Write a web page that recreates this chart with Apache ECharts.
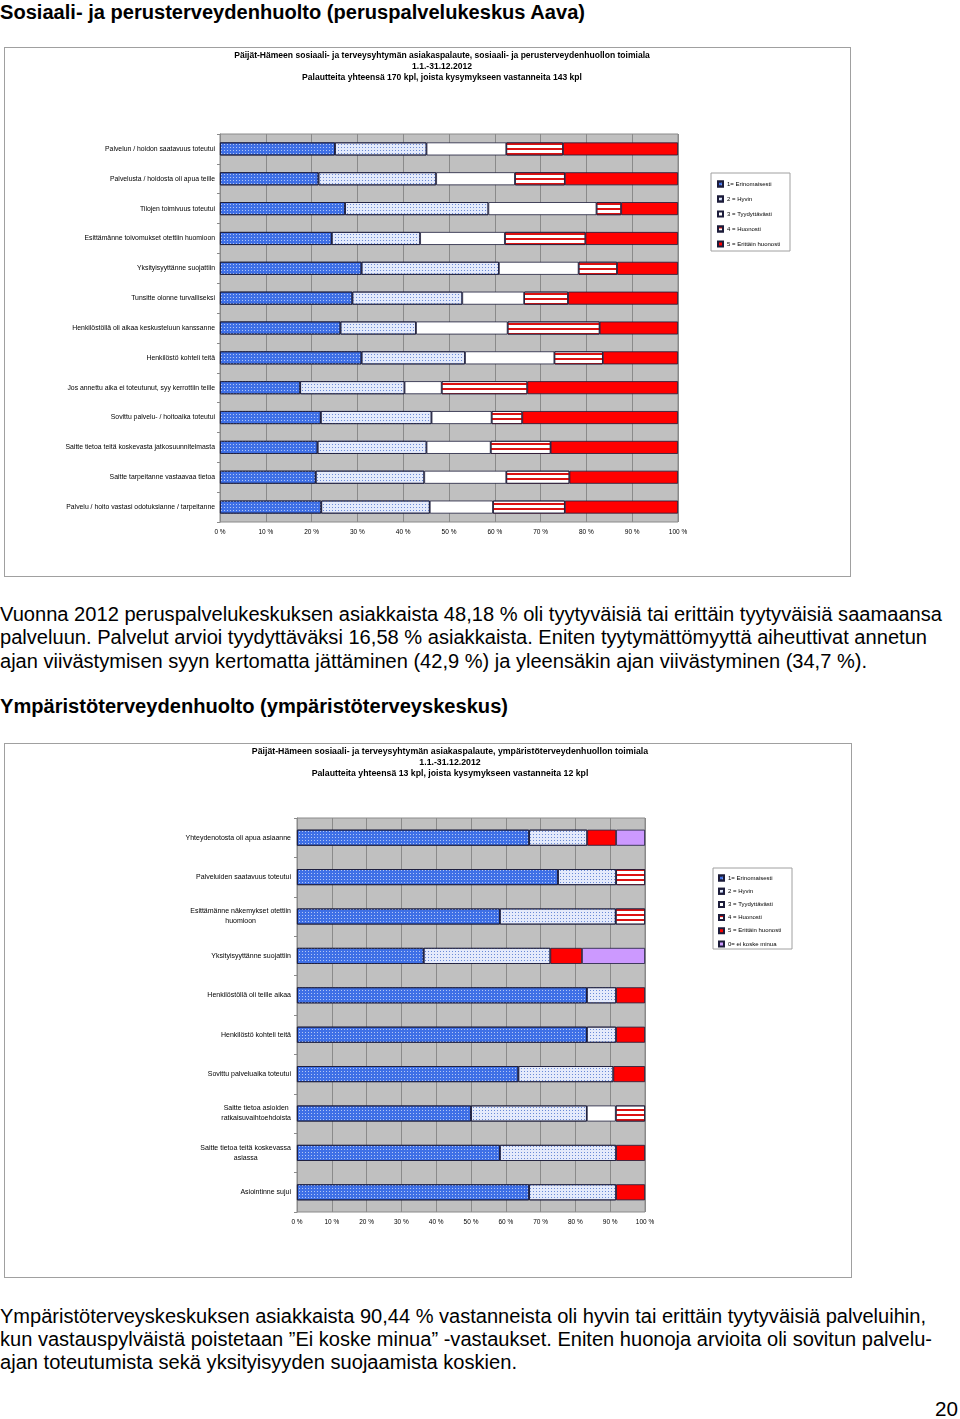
<!DOCTYPE html>
<html><head><meta charset="utf-8">
<script src="https://cdn.jsdelivr.net/npm/echarts@6/dist/echarts.min.js"></script>
<style>
body{margin:0;background:#fff;width:960px;height:1419px;position:relative;overflow:hidden;font-family:Arial,'Liberation Sans',sans-serif;}
.t{position:absolute;left:0;white-space:nowrap;transform-origin:0 0;color:#000;}
.h{font-weight:bold;font-size:20px;line-height:24px;}
.p{font-size:19.5px;line-height:24px;}
.box{position:absolute;border:1px solid #a0a0a0;box-sizing:border-box;background:#fff;}
</style></head><body>
<div class="t h" style="top:0px" data-w="585">Sosiaali- ja perusterveydenhuolto (peruspalvelukeskus Aava)</div>
<div id="c1" class="box" style="left:4px;top:47px;width:847px;height:530px"></div>
<div class="t p" style="top:602px" data-w="942">Vuonna 2012 peruspalvelukeskuksen asiakkaista 48,18 % oli tyytyväisiä tai erittäin tyytyväisiä saamaansa</div>
<div class="t p" style="top:625px" data-w="927">palveluun. Palvelut arvioi tyydyttäväksi 16,58 % asiakkaista. Eniten tyytymättömyyttä aiheuttivat annetun</div>
<div class="t p" style="top:649px" data-w="867">ajan viivästymisen syyn kertomatta jättäminen (42,9 %) ja yleensäkin ajan viivästyminen (34,7 %).</div>
<div class="t h" style="top:694px" data-w="508">Ympäristöterveydenhuolto (ympäristöterveyskeskus)</div>
<div id="c2" class="box" style="left:4px;top:743px;width:848px;height:535px"></div>
<div class="t p" style="top:1304px" data-w="926">Ympäristöterveyskeskuksen asiakkaista 90,44 % vastanneista oli hyvin tai erittäin tyytyväisiä palveluihin,</div>
<div class="t p" style="top:1327px" data-w="932">kun vastauspylväistä poistetaan ”Ei koske minua” -vastaukset. Eniten huonoja arvioita oli sovitun palvelu-</div>
<div class="t p" style="top:1350px" data-w="517">ajan toteutumista sekä yksityisyyden suojaamista koskien.</div>
<div class="t p" style="top:1397px;left:935px" data-w="23">20</div>
<script>
// ---------- DATA: chart 1 ----------
const chart1Title = [
  'Päijät-Hämeen sosiaali- ja terveysyhtymän asiakaspalaute, sosiaali- ja perusterveydenhuollon toimiala',
  '1.1.-31.12.2012',
  'Palautteita yhteensä 170 kpl, joista kysymykseen vastanneita 143 kpl'
];
const chart1Categories = [
  'Palvelun / hoidon saatavuus toteutui',
  'Palvelusta / hoidosta oli apua teille',
  'Tilojen toimivuus toteutui',
  'Esittämänne toivomukset otettiin huomioon',
  'Yksityisyyttänne suojattiin',
  'Tunsitte olonne turvalliseksi',
  'Henkilöstöllä oli aikaa keskusteluun kanssanne',
  'Henkilöstö kohteli teitä',
  'Jos annettu aika ei toteutunut, syy kerrottiin teille',
  'Sovittu palvelu- / hoitoaika toteutui',
  'Saitte tietoa teitä koskevasta jatkosuunnitelmasta',
  'Saitte tarpeitanne vastaavaa tietoa',
  'Palvelu / hoito vastasi odotuksianne / tarpeitanne'
];
const chart1Erinomaisesti = [25.1, 21.5, 27.3, 24.4, 30.9, 28.9, 26.3, 30.9, 17.5, 22.0, 21.3, 20.9, 22.1];
const chart1Hyvin         = [20.0, 25.7, 31.3, 19.3, 30.0, 24.0, 16.5, 22.6, 22.8, 24.2, 23.8, 23.7, 23.7];
const chart1Tyydyttavasti = [17.4, 17.2, 23.6, 18.5, 17.4, 13.5, 20.0, 19.5,  8.1, 13.1, 14.0, 17.9, 13.8];
const chart1Huonosti      = [12.4, 10.9,  5.4, 17.6,  8.4,  9.6, 20.1, 10.6, 18.7,  6.7, 13.1, 13.8, 15.7];
const chart1ErittainHuon  = [25.1, 24.7, 12.4, 20.2, 13.3, 24.0, 17.1, 16.4, 32.9, 34.0, 27.8, 23.7, 24.7];

// ---------- DATA: chart 2 ----------
const chart2Title = [
  'Päijät-Hämeen sosiaali- ja terveysyhtymän asiakaspalaute, ympäristöterveydenhuollon toimiala',
  '1.1.-31.12.2012',
  'Palautteita yhteensä 13 kpl, joista kysymykseen vastanneita 12 kpl'
];
const chart2Categories = [
  'Yhteydenotosta oli apua asiaanne',
  'Palveluiden saatavuus toteutui',
  'Esittämänne näkemykset otettiin\nhuomioon',
  'Yksityisyyttänne suojattiin',
  'Henkilöstöllä oli teille aikaa',
  'Henkilöstö kohteli teitä',
  'Sovittu palveluaika toteutui',
  'Saitte tietoa asioiden\nratkaisuvaihtoehdoista',
  'Saitte tietoa teitä koskevassa\nasiassa',
  'Asiointinne sujui'
];
const chart2Erinomaisesti = [66.7, 75.0, 58.3, 36.4, 83.3, 83.3, 63.6, 50.0, 58.3, 66.7];
const chart2Hyvin         = [16.7, 16.7, 33.3, 36.4,  8.4,  8.4, 27.3, 33.3, 33.4, 25.0];
const chart2Tyydyttavasti = [null, null, null, null, null, null, null,  8.3, null, null];
const chart2Huonosti      = [null,  8.3,  8.4, null, null, null, null,  8.4, null, null];
const chart2ErittainHuon  = [ 8.3, null, null,  9.1,  8.3,  8.3,  9.1, null,  8.3,  8.3];
const chart2EiKoske       = [ 8.3, null, null, 18.1, null, null, null, null, null, null];

const seriesNames = ['1= Erinomaisesti','2 = Hyvin','3 = Tyydyttävästi','4 = Huonosti','5 = Erittäin huonosti','0= ei koske minua'];
const xTicks = [0,10,20,30,40,50,60,70,80,90,100];

// ---------- STYLES ----------
const FONT = 'Arial, "Liberation Sans", sans-serif';
const border = {borderColor:'#1c1c3a', borderWidth:0.8};
const styleList = [
  Object.assign({color:'#3f70e6', decal:{symbol:'rect', symbolSize:1, dashArrayX:[1,2], dashArrayY:[1,2], color:'rgba(255,255,255,0.6)'}}, border),
  Object.assign({color:'#e4eafb', decal:{symbol:'rect', symbolSize:1, dashArrayX:[1,2], dashArrayY:[1,2], color:'#6a8ad6'}}, border),
  Object.assign({color:'#ffffff'}, border),
  Object.assign({color:'#ffffff', decal:{symbol:'rect', symbolSize:1, dashArrayX:[4,0], dashArrayY:[1.4,2.6], color:'#dd1111'}}, border),
  Object.assign({color:'#ff0000'}, border),
  Object.assign({color:'#cc99ff'}, border)
];

function buildOption(cfg){
  const series = cfg.data.map((d,i)=>({
    name: seriesNames[i], type:'bar', stack:'all', data:d, barWidth:cfg.barWidth,
    itemStyle: styleList[i], emphasis:{disabled:true}, animation:false
  }));
  const graphic = [{type:'rect', shape:{x:cfg.legendBox[0], y:cfg.legendBox[1], width:cfg.legendBox[2], height:cfg.legendBox[3]},
                    style:{fill:'#fff', stroke:'#a0a0a0', lineWidth:1}, z:-1}];
  cfg.title.forEach((t,i)=>graphic.push({type:'text', style:{text:t, x:cfg.titleX, y:8+11*i, align:'center', verticalAlign:'middle',
      font:'bold ' + cfg.titleFont + 'px '+FONT, fill:'#000'}}));
  return {
    animation:false,
    textStyle:{fontFamily:FONT},
    grid:{left:cfg.grid[0], top:cfg.grid[1], width:cfg.grid[2], height:cfg.grid[3], show:true, backgroundColor:'#c0c0c0', borderColor:'#8a8a8a', borderWidth:1},
    xAxis:{type:'value', min:xTicks[0], max:xTicks[xTicks.length-1], interval:xTicks[1]-xTicks[0],
      axisLabel:{formatter:'{value} %', fontSize:6.5, color:'#000', margin:cfg.xMargin},
      axisLine:{show:false}, axisTick:{show:false},
      splitLine:{show:true, lineStyle:{color:'#8a8a8a', width:1}}},
    yAxis:{type:'category', data:cfg.categories, inverse:true,
      axisLine:{show:true, lineStyle:{color:'#8a8a8a'}}, axisTick:{show:true, length:3, lineStyle:{color:'#8a8a8a'}},
      axisLabel:{fontSize:cfg.yFont, color:'#000', margin:cfg.yMargin, lineHeight:10,
        formatter: v => '{c|' + v + '}', rich:{c:{align:'center', fontSize:cfg.yFont, lineHeight:10, color:'#000'}}}},
    legend:{orient:'vertical', left:cfg.legendPos[0], top:cfg.legendPos[1], itemWidth:5, itemHeight:5, itemGap:cfg.legendGap,
      icon:'rect', padding:0, selectedMode:false,
      textStyle:{fontSize:6, color:'#000', lineHeight:8, padding:[0,0,0,-1]},
      data: seriesNames.slice(0, cfg.data.length)},
    graphic: graphic,
    series: series
  };
}

const c1 = echarts.init(document.getElementById('c1'), null, {renderer:'canvas'});
c1.setOption(buildOption({
  title: chart1Title, titleX: 437, titleFont: 8.55, categories: chart1Categories,
  data:[chart1Erinomaisesti, chart1Hyvin, chart1Tyydyttavasti, chart1Huonosti, chart1ErittainHuon],
  grid:[215, 86, 458, 388], barWidth:13, yFont:6.85, yMargin:5, xMargin:7,
  legendBox:[706, 125, 79, 78], legendPos:[712, 132], legendGap:7
}));
const c2 = echarts.init(document.getElementById('c2'), null, {renderer:'canvas'});
c2.setOption(buildOption({
  title: chart2Title, titleX: 445, titleFont: 8.75, categories: chart2Categories,
  data:[chart2Erinomaisesti, chart2Hyvin, chart2Tyydyttavasti, chart2Huonosti, chart2ErittainHuon, chart2EiKoske],
  grid:[292, 74, 348, 394], barWidth:16, yFont:7, yMargin:6, xMargin:7,
  legendBox:[708, 124, 79, 81], legendPos:[713, 130], legendGap:5.2
}));

// fit text lines to their widths in the source
document.querySelectorAll('.t[data-w]').forEach(el=>{
  const w = el.getBoundingClientRect().width;
  const tw = parseFloat(el.dataset.w);
  if (w>0) el.style.transform = 'scaleX(' + (tw/w) + ')';
});
</script>
</body></html>
